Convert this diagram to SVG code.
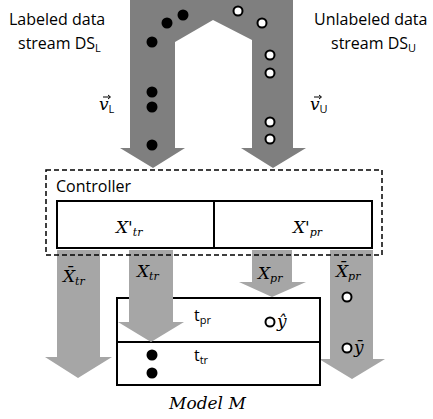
<svg xmlns="http://www.w3.org/2000/svg" width="433" height="419" viewBox="0 0 433 419">
  <style>
    .stream { fill: #7f7f7f; }
    .flow { fill: #a6a6a6; }
    .dark { fill: #000; }
    .open { fill: #fff; stroke: #000; stroke-width: 2; }
    .box { fill: #fff; stroke: #000; stroke-width: 2; }
    .dash { fill: none; stroke: #000; stroke-width: 1.5; stroke-dasharray: 5 3; }
    .vec { fill: none; stroke: #000; stroke-width: 1; }
    .lbl { font-family: "Open Sans", "Liberation Sans", sans-serif; font-size: 16px; fill: #000; }
    .math { font-family: "DejaVu Serif", "Liberation Serif", serif; font-style: italic; font-size: 17px; fill: #000; }
    .sub { font-size: 11px; }
    .up { font-family: "Open Sans", "Liberation Sans", sans-serif; font-style: normal; }
  </style>

  <!-- incoming data streams merging into the controller, and outgoing flows -->
  <g id="connectors">
    <path id="streams" class="stream" d="M130,0 H293 V148 H306 L273,168 L241,148 H252 V40 L213,20 L175,42 V148 H185 L153,168 L120,148 H130 Z"/>
    <path id="flow-xbar-tr" class="flow" d="M57,250 H100 V357 H112 L78,378 L45,357 H57 Z"/>
    <path id="flow-xbar-pr" class="flow" d="M330,250 H373 V359 H385 L352,379 L319,359 H330 Z"/>
  </g>

  <!-- labeled stream -->
  <g id="labeled-stream">
    <text class="lbl" x="9" y="25">Labeled data</text>
    <text class="lbl" x="18" y="49">stream DS<tspan class="sub" dy="3">L</tspan></text>
    <text class="math" x="99" y="110">v<tspan class="sub up" dy="3">L</tspan></text>
    <path class="vec" d="M103,97 H110 M108,95 L110.5,97 L108,99"/>
    <circle class="dark" cx="152" cy="42" r="5.5"/>
    <circle class="dark" cx="167" cy="23" r="5.5"/>
    <circle class="dark" cx="183" cy="15" r="5.5"/>
    <circle class="dark" cx="152" cy="92" r="5.5"/>
    <circle class="dark" cx="152" cy="107" r="5.5"/>
    <circle class="dark" cx="152" cy="145" r="5.5"/>
  </g>

  <!-- unlabeled stream -->
  <g id="unlabeled-stream">
    <text class="lbl" x="314" y="25">Unlabeled data</text>
    <text class="lbl" x="331" y="49">stream DS<tspan class="sub" dy="3">U</tspan></text>
    <text class="math" x="310" y="110">v<tspan class="sub up" dy="3">U</tspan></text>
    <path class="vec" d="M314,97 H321 M319,95 L321.5,97 L319,99"/>
    <circle class="open" cx="238" cy="11" r="4.5"/>
    <circle class="open" cx="262" cy="23" r="4.5"/>
    <circle class="open" cx="270" cy="55" r="4.5"/>
    <circle class="open" cx="270" cy="73" r="4.5"/>
    <circle class="open" cx="270" cy="122" r="4.5"/>
    <circle class="open" cx="270" cy="139" r="4.5"/>
  </g>

  <!-- model with prediction and training parts -->
  <g id="model">
    <rect class="box" x="117" y="298" width="203" height="87"/>
    <line x1="117" y1="342" x2="320" y2="342" stroke="#000" stroke-width="2"/>
    <text class="lbl" x="194" y="321">t<tspan class="sub" dy="3">pr</tspan></text>
    <text class="lbl" x="194" y="361">t<tspan class="sub" dy="3">tr</tspan></text>
    <circle class="open" cx="270" cy="322" r="4.5"/>
    <text class="math" x="277" y="327">ŷ</text>
    <circle class="dark" cx="152" cy="355" r="5.5"/>
    <circle class="dark" cx="152" cy="373" r="5.5"/>
    <text class="math" x="169" y="409" font-size="17">Model M</text>
  </g>

  <!-- flows that end on the model, drawn over its frame -->
  <g id="connectors-front">
    <path id="flow-x-tr" class="flow" d="M129,250 H173 V322 H184 L151,342 L118,322 H129 Z"/>
    <path id="flow-x-pr" class="flow" d="M252,250 H292 V282 H306 L272,297 L239,282 H252 Z"/>
  </g>

  <g id="flow-labels">
    <text class="math" x="63" y="282">X̄<tspan class="sub" dy="3">tr</tspan></text>
    <text class="math" x="137" y="277">X<tspan class="sub" dy="3">tr</tspan></text>
    <text class="math" x="258" y="279">X<tspan class="sub" dy="3">pr</tspan></text>
    <text class="math" x="336" y="277">X̄<tspan class="sub" dy="3">pr</tspan></text>
    <circle class="open" cx="347" cy="297" r="4.5"/>
    <circle class="open" cx="347" cy="348" r="4.5"/>
    <text class="math" x="354" y="353">ȳ</text>
  </g>

  <!-- controller buffering training and prediction data -->
  <g id="controller">
    <rect class="dash" x="46" y="170" width="336" height="85"/>
    <text class="lbl" x="56" y="192">Controller</text>
    <rect class="box" x="57" y="201" width="315" height="47"/>
    <line x1="214" y1="201" x2="214" y2="248" stroke="#000" stroke-width="2"/>
    <text class="math" x="116" y="233">X'<tspan class="sub" dy="3">tr</tspan></text>
    <text class="math" x="293" y="233">X'<tspan class="sub" dy="3">pr</tspan></text>
  </g>
</svg>
